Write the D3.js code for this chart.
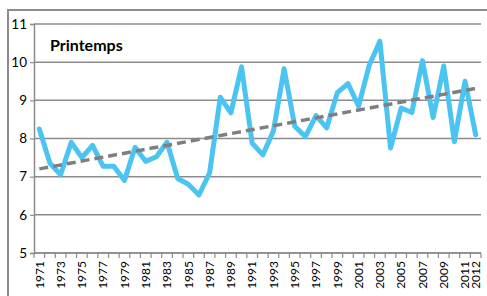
<!DOCTYPE html>
<html>
<head>
<meta charset="utf-8">
<script src="https://cdn.jsdelivr.net/npm/d3@7"></script>
<style>
body { margin: 0; background: #fff; }
text { font-family: Lato, "Open Sans", sans-serif; fill: #000; }
</style>
</head>
<body>
<div id="chart"></div>
<script>
var years = d3.range(1971, 2013);
var values = [8.25, 7.35, 7.05, 7.9, 7.5, 7.82, 7.27, 7.27, 6.9, 7.77,
              7.4, 7.52, 7.9, 6.95, 6.8, 6.52, 7.1, 9.08, 8.67, 9.88,
              7.88, 7.57, 8.2, 9.83, 8.32, 8.05, 8.6, 8.28, 9.2, 9.44,
              8.85, 9.92, 10.55, 7.75, 8.8, 8.68, 10.04, 8.55, 9.9, 7.92,
              9.5, 8.1];
var yTicks = [5, 6, 7, 8, 9, 10, 11];
var xLabels = years.filter(function(y) { return y % 2 == 1 || y == 2012; });

var fw = 487, fh = 296;
var mar = { top: 24, right: 6, bottom: 43, left: 34 };
var w = 481 - mar.left;
var h = 253 - mar.top;

var svg = d3.select("#chart")
		.append("svg")
		.attr("width", fw)
		.attr("height", fh)
		.style("display", "block");

// outer frame: only its top and left edges fall inside the picture
svg.append("rect")
	.attr("x", 7).attr("y", 9)
	.attr("width", 2).attr("height", fh - 9)
	.attr("fill", "#8c8c8c");
svg.append("rect")
	.attr("x", 7).attr("y", 9)
	.attr("width", fw - 7).attr("height", 2)
	.attr("fill", "#8c8c8c");

var g = svg.append("g")
		.attr("transform", "translate(" + mar.left + "," + mar.top + ")");

var x = d3.scaleBand().domain(years).range([0, w]);
var y = d3.scaleLinear().domain([5, 11]).range([h, 0]);

// gridlines
g.selectAll(".grid")
	.data(yTicks)
	.enter().append("line")
	.attr("x1", 0).attr("x2", w)
	.attr("y1", function(d) { return y(d); })
	.attr("y2", function(d) { return y(d); })
	.attr("stroke", "#8c8c8c")
	.attr("stroke-width", 1.5);

var yA = d3.axisLeft(y).tickValues(yTicks).tickFormat(d3.format("d")).tickSize(4).tickPadding(3);
var yg = g.append("g").call(yA);
yg.select(".domain").attr("stroke", "#8c8c8c").attr("stroke-width", 1.5);
yg.selectAll(".tick line").attr("stroke", "#8c8c8c").attr("stroke-width", 1.2);
yg.selectAll("text").style("font-size", "13.5px").attr("fill", "#000");

// x axis with ticks at category boundaries
var xg = g.append("g").attr("transform", "translate(0," + h + ")");
xg.append("line").attr("x1", 0).attr("x2", w)
	.attr("stroke", "#8c8c8c").attr("stroke-width", 1.5);
xg.selectAll(".xt")
	.data(years.concat([2013]))
	.enter().append("line")
	.attr("x1", function(d, i) { return i * x.step(); })
	.attr("x2", function(d, i) { return i * x.step(); })
	.attr("y1", 0).attr("y2", 5)
	.attr("stroke", "#8c8c8c").attr("stroke-width", 1.2);
xg.selectAll(".xl")
	.data(xLabels)
	.enter().append("text")
	.attr("transform", function(d) {
		return "translate(" + (x(d) + x.bandwidth() / 2 + 4.3) + ",8) rotate(-90)";
	})
	.style("text-anchor", "end")
	.style("font-size", "12px")
	.text(function(d) { return d; });

var cx = function(d) { return x(d) + x.bandwidth() / 2; };

var line = d3.line()
	.x(function(d, i) { return cx(years[i]); })
	.y(function(d) { return y(d); });

g.append("path")
	.datum(values)
	.attr("d", line)
	.attr("fill", "none")
	.attr("stroke", "#4cc4f2")
	.attr("stroke-width", 5)
	.attr("stroke-linejoin", "round")
	.attr("stroke-linecap", "round");

// trend line (least squares), drawn over the series
var n = values.length;
var mx = d3.mean(years), my = d3.mean(values);
var slope = d3.sum(years, function(d, i) { return (d - mx) * (values[i] - my); }) /
			d3.sum(years, function(d) { return (d - mx) * (d - mx); });
var icpt = my - slope * mx;

g.append("line")
	.attr("x1", cx(years[0])).attr("x2", cx(years[n - 1]))
	.attr("y1", y(icpt + slope * years[0]))
	.attr("y2", y(icpt + slope * years[n - 1]))
	.attr("stroke", "#7f7f7f")
	.attr("stroke-width", 3.5)
	.attr("stroke-dasharray", "9,5");

svg.append("text")
	.attr("x", 50).attr("y", 51)
	.style("font-weight", "bold")
	.style("font-size", "16px")
	.text("Printemps");
</script>
</body>
</html>
